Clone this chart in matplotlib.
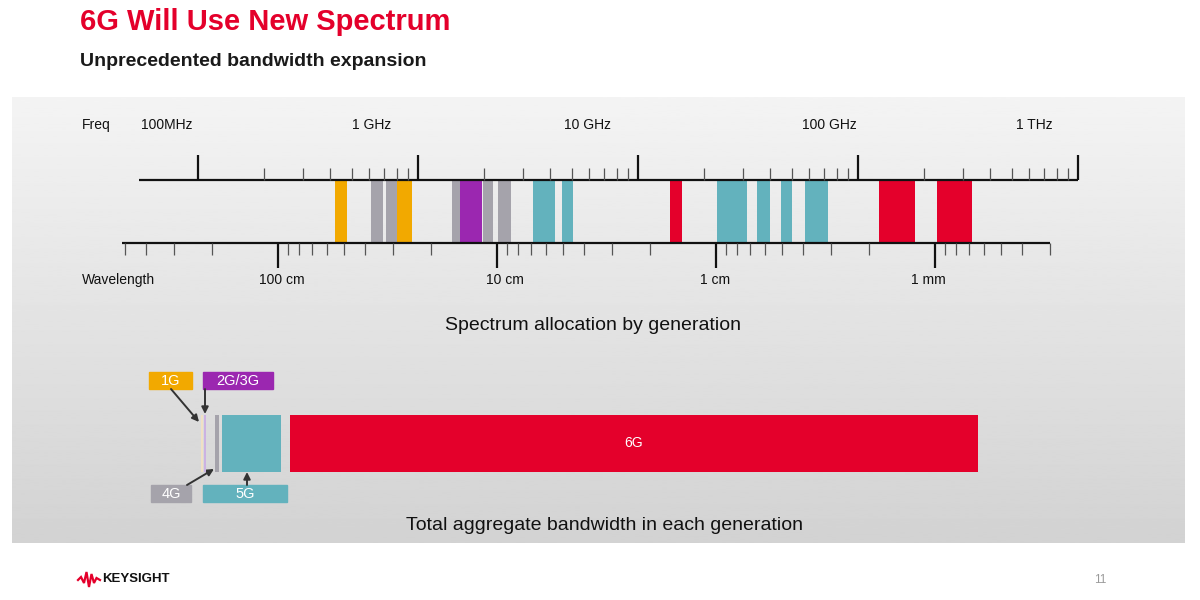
import numpy as np
import matplotlib
matplotlib.use('Agg')
import matplotlib.pyplot as plt
from matplotlib.patches import Rectangle

plt.rcParams['font.family'] = ['Liberation Sans', 'DejaVu Sans']

# spectrum bands (GHz) and the generation that uses them
band_lo = [0.42, 0.61, 0.715, 0.80, 1.43, 1.55, 1.97, 2.31, 3.33, 4.5, 14.0, 22.9, 34.8, 44.7, 57.4, 124.6, 229.0]
band_hi = [0.475, 0.69, 0.80, 0.94, 1.55, 1.95, 2.2, 2.65, 4.2, 5.05, 15.9, 31.3, 39.8, 50.1, 73.0, 181.6, 330.0]
band_gen = ['1G', '4G', '4G', '1G', '4G', '2G/3G', '4G', '4G', '5G', '5G', '6G',
            '5G', '5G', '5G', '5G', '6G', '6G']

# total aggregate bandwidth per generation (GHz, as drawn)
gens = ['1G', '2G/3G', '4G', '5G', '6G']
bandwidth = [0.2, 0.25, 0.35, 5.9, 68.8]

freq_major = [0.1, 1, 10, 100, 1000]
freq_labels = ['100MHz', '1 GHz', '10 GHz', '100 GHz', '1 THz']
wave_major = [100, 10, 1, 0.1]
wave_labels = ['100 cm', '10 cm', '1 cm', '1 mm']

gen_color = {'1G': '#f2a900', '2G/3G': '#9b27b0', '4G': '#a5a3ab',
             '5G': '#63b2bd', '6G': '#e4002b'}
bar_color = ['#f0e0c4', '#cbb2e2', '#a5a3ab', '#63b2bd', '#e4002b']

fig = plt.figure(figsize=(12, 6), dpi=100)
fig.patch.set_facecolor('white')

# pixel-space axes for the page layout
ax = fig.add_axes([0, 0, 1, 1])
ax.set_xlim(0, 1200)
ax.set_ylim(600, 0)
ax.axis('off')

grad = np.linspace(0.955, 0.825, 256).reshape(-1, 1)
ax.imshow(grad, cmap='gray', vmin=0, vmax=1, aspect='auto',
          extent=[12, 1185, 543, 97], zorder=0)

ax.text(80, 22, '6G Will Use New Spectrum', fontsize=21, fontweight='bold',
        color='#e4002b', va='center', ha='left')
ax.text(80, 61, 'Unprecedented bandwidth expansion', fontsize=14,
        fontweight='bold', color='#1a1a1a', va='center', ha='left')

ax.text(82, 125, 'Freq', fontsize=10, va='center', color='#111')
ax.text(82, 280, 'Wavelength', fontsize=10, va='center', color='#111')
for x, lab in zip([167, 372, 587, 829, 1034], freq_labels):
    ax.text(x, 125, lab, fontsize=10, ha='center', va='center', color='#111')
for x, lab in zip([282, 505, 715, 928], wave_labels):
    ax.text(x, 280, lab, fontsize=10, ha='center', va='center', color='#111')

ax.text(593, 325, 'Spectrum allocation by generation', fontsize=14,
        ha='center', va='center', color='#111')
ax.text(604, 525, 'Total aggregate bandwidth in each generation', fontsize=14,
        ha='center', va='center', color='#111')

# frequency axis (log scale, ~220 px per decade)
def f_at(px):
    return 0.1 * 10 ** ((px - 198) / 220)

axf = fig.add_axes([0, 0, 1, 1], zorder=2)
axf.set_xscale('log')
axf.set_xlim(f_at(0), f_at(1200))
axf.set_ylim(600, 0)
axf.axis('off')
axf.patch.set_alpha(0)

axf.bar(band_lo, 63, width=np.array(band_hi) - np.array(band_lo), bottom=180,
        align='edge', color=[gen_color[g] for g in band_gen], zorder=1)
axf.hlines(180, f_at(139), 1000, color='#111', lw=1.6, zorder=3)
axf.vlines(freq_major, 155, 180, color='#111', lw=1.6, zorder=3)
minor_f = [k * 10.0 ** n for n in range(-1, 3) for k in range(2, 10)]
axf.vlines(minor_f, 168, 180, color='#555', lw=0.9, zorder=3)

# wavelength axis (log scale, decreasing to the right)
def w_at(px):
    return 100 * 10 ** ((278 - px) / 219)

axw = fig.add_axes([0, 0, 1, 1], zorder=3)
axw.set_xscale('log')
axw.set_xlim(w_at(0), w_at(1200))
axw.set_ylim(600, 0)
axw.axis('off')
axw.patch.set_alpha(0)

axw.hlines(243, w_at(122), 0.03, color='#111', lw=1.6)
axw.vlines(wave_major, 243, 268, color='#111', lw=1.6)
minor_w = [k * 10.0 ** n for n in range(-2, 3) for k in range(2, 10)]
minor_w = [w for w in minor_w if 0.029 < w < 510]
axw.vlines(minor_w, 243, 255, color='#555', lw=0.9)

# aggregate bandwidth bars (linear, 10 px per GHz)
axb = fig.add_axes([0, 0, 1, 1], zorder=4)
axb.set_xlim(-20.1, 99.9)
axb.set_ylim(600, 0)
axb.axis('off')
axb.patch.set_alpha(0)

gaps = [0.05, 0.9, 0.3, 0.95]
lefts = [0.0]
for w, g in zip(bandwidth[:-1], gaps):
    lefts.append(lefts[-1] + w + g)
axb.bar(lefts, 57, width=bandwidth, bottom=415, align='edge', color=bar_color)
axb.text(lefts[-1] + bandwidth[-1] / 2, 443, '6G', color='white', fontsize=10,
         ha='center', va='center')

# generation tags with arrows
tags = [('1G', 149, 372, 43), ('2G/3G', 203, 372, 70),
        ('4G', 151, 485, 40), ('5G', 203, 485, 84)]
for name, x0, y0, w in tags:
    ax.add_patch(Rectangle((x0, y0), w, 17, color=gen_color[name], zorder=5))
    ax.text(x0 + w / 2, y0 + 9, name, color='white', fontsize=10.5,
            ha='center', va='center', zorder=6)

arrow = dict(arrowstyle='-|>', color='#333', lw=1.4, mutation_scale=10,
             shrinkA=0, shrinkB=0)
ax.annotate('', xy=(199, 422), xytext=(171, 389), arrowprops=arrow, zorder=6)
ax.annotate('', xy=(205, 414), xytext=(205, 389), arrowprops=arrow, zorder=6)
ax.annotate('', xy=(214, 469), xytext=(187, 485), arrowprops=arrow, zorder=6)
ax.annotate('', xy=(247, 472), xytext=(247, 485), arrowprops=arrow, zorder=6)

# footer: logo and page number
logo_x = [78, 81, 84, 86.5, 89, 91.5, 94, 96.5, 100]
logo_y = [580, 577, 583, 572, 587, 574, 583, 578, 580]
ax.plot(logo_x, logo_y, color='#e4002b', lw=1.6, solid_joinstyle='miter')
ax.text(102, 579, 'KEYSIGHT', fontsize=9.5, fontweight='bold', color='#111',
        va='center', ha='left')
ax.text(1100, 580, '11', fontsize=8.5, color='#9a9a9a', ha='center', va='center')

fig.savefig('out.png', dpi=100)
